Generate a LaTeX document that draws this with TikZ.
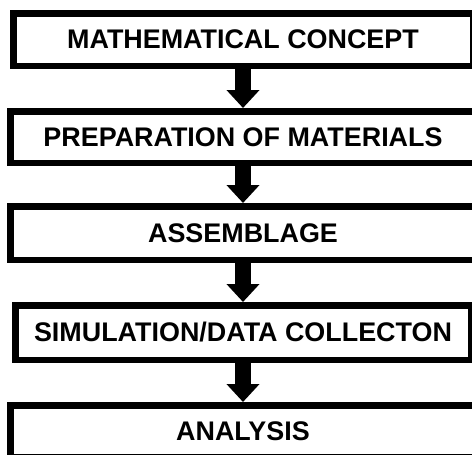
\documentclass[tikz,border=0pt]{standalone}
\usepackage{fontspec}
\setmainfont{Liberation Sans}
\usetikzlibrary{arrows.meta}

\tikzstyle{stage}=[rectangle, draw, line width=6.5pt, fill=white, inner sep=0pt,
    font=\bfseries\fontsize{26.9}{30}\selectfont]
\tikzstyle{flow}=[line width=16pt, -{Triangle[length=18pt,width=32pt]}]

\begin{document}
\begin{tikzpicture}[x=1pt,y=-1pt]
    \path[use as bounding box, clip] (0,0) rectangle (472,455);
    \node[stage, minimum width=459.5pt, minimum height=52.5pt] (n1) at (243,39.5) {MATHEMATICAL CONCEPT};
    \node[stage, minimum width=465.5pt, minimum height=51.5pt] (n2) at (243,137) {PREPARATION OF MATERIALS};
    \node[stage, minimum width=465.5pt, minimum height=53.5pt] (n3) at (243,233) {ASSEMBLAGE};
    \node[stage, minimum width=455.5pt, minimum height=54.5pt] (n4) at (243,332.5) {SIMULATION/DATA COLLECTON};
    \node[stage, minimum width=465.5pt, minimum height=51.5pt] (n5) at (243,431) {ANALYSIS};
    \path[draw,flow]
    (n1) edge (n2)
    (n2) edge (n3)
    (n3) edge (n4)
    (n4) edge (n5)
	;
  \end{tikzpicture}
\end{document}
